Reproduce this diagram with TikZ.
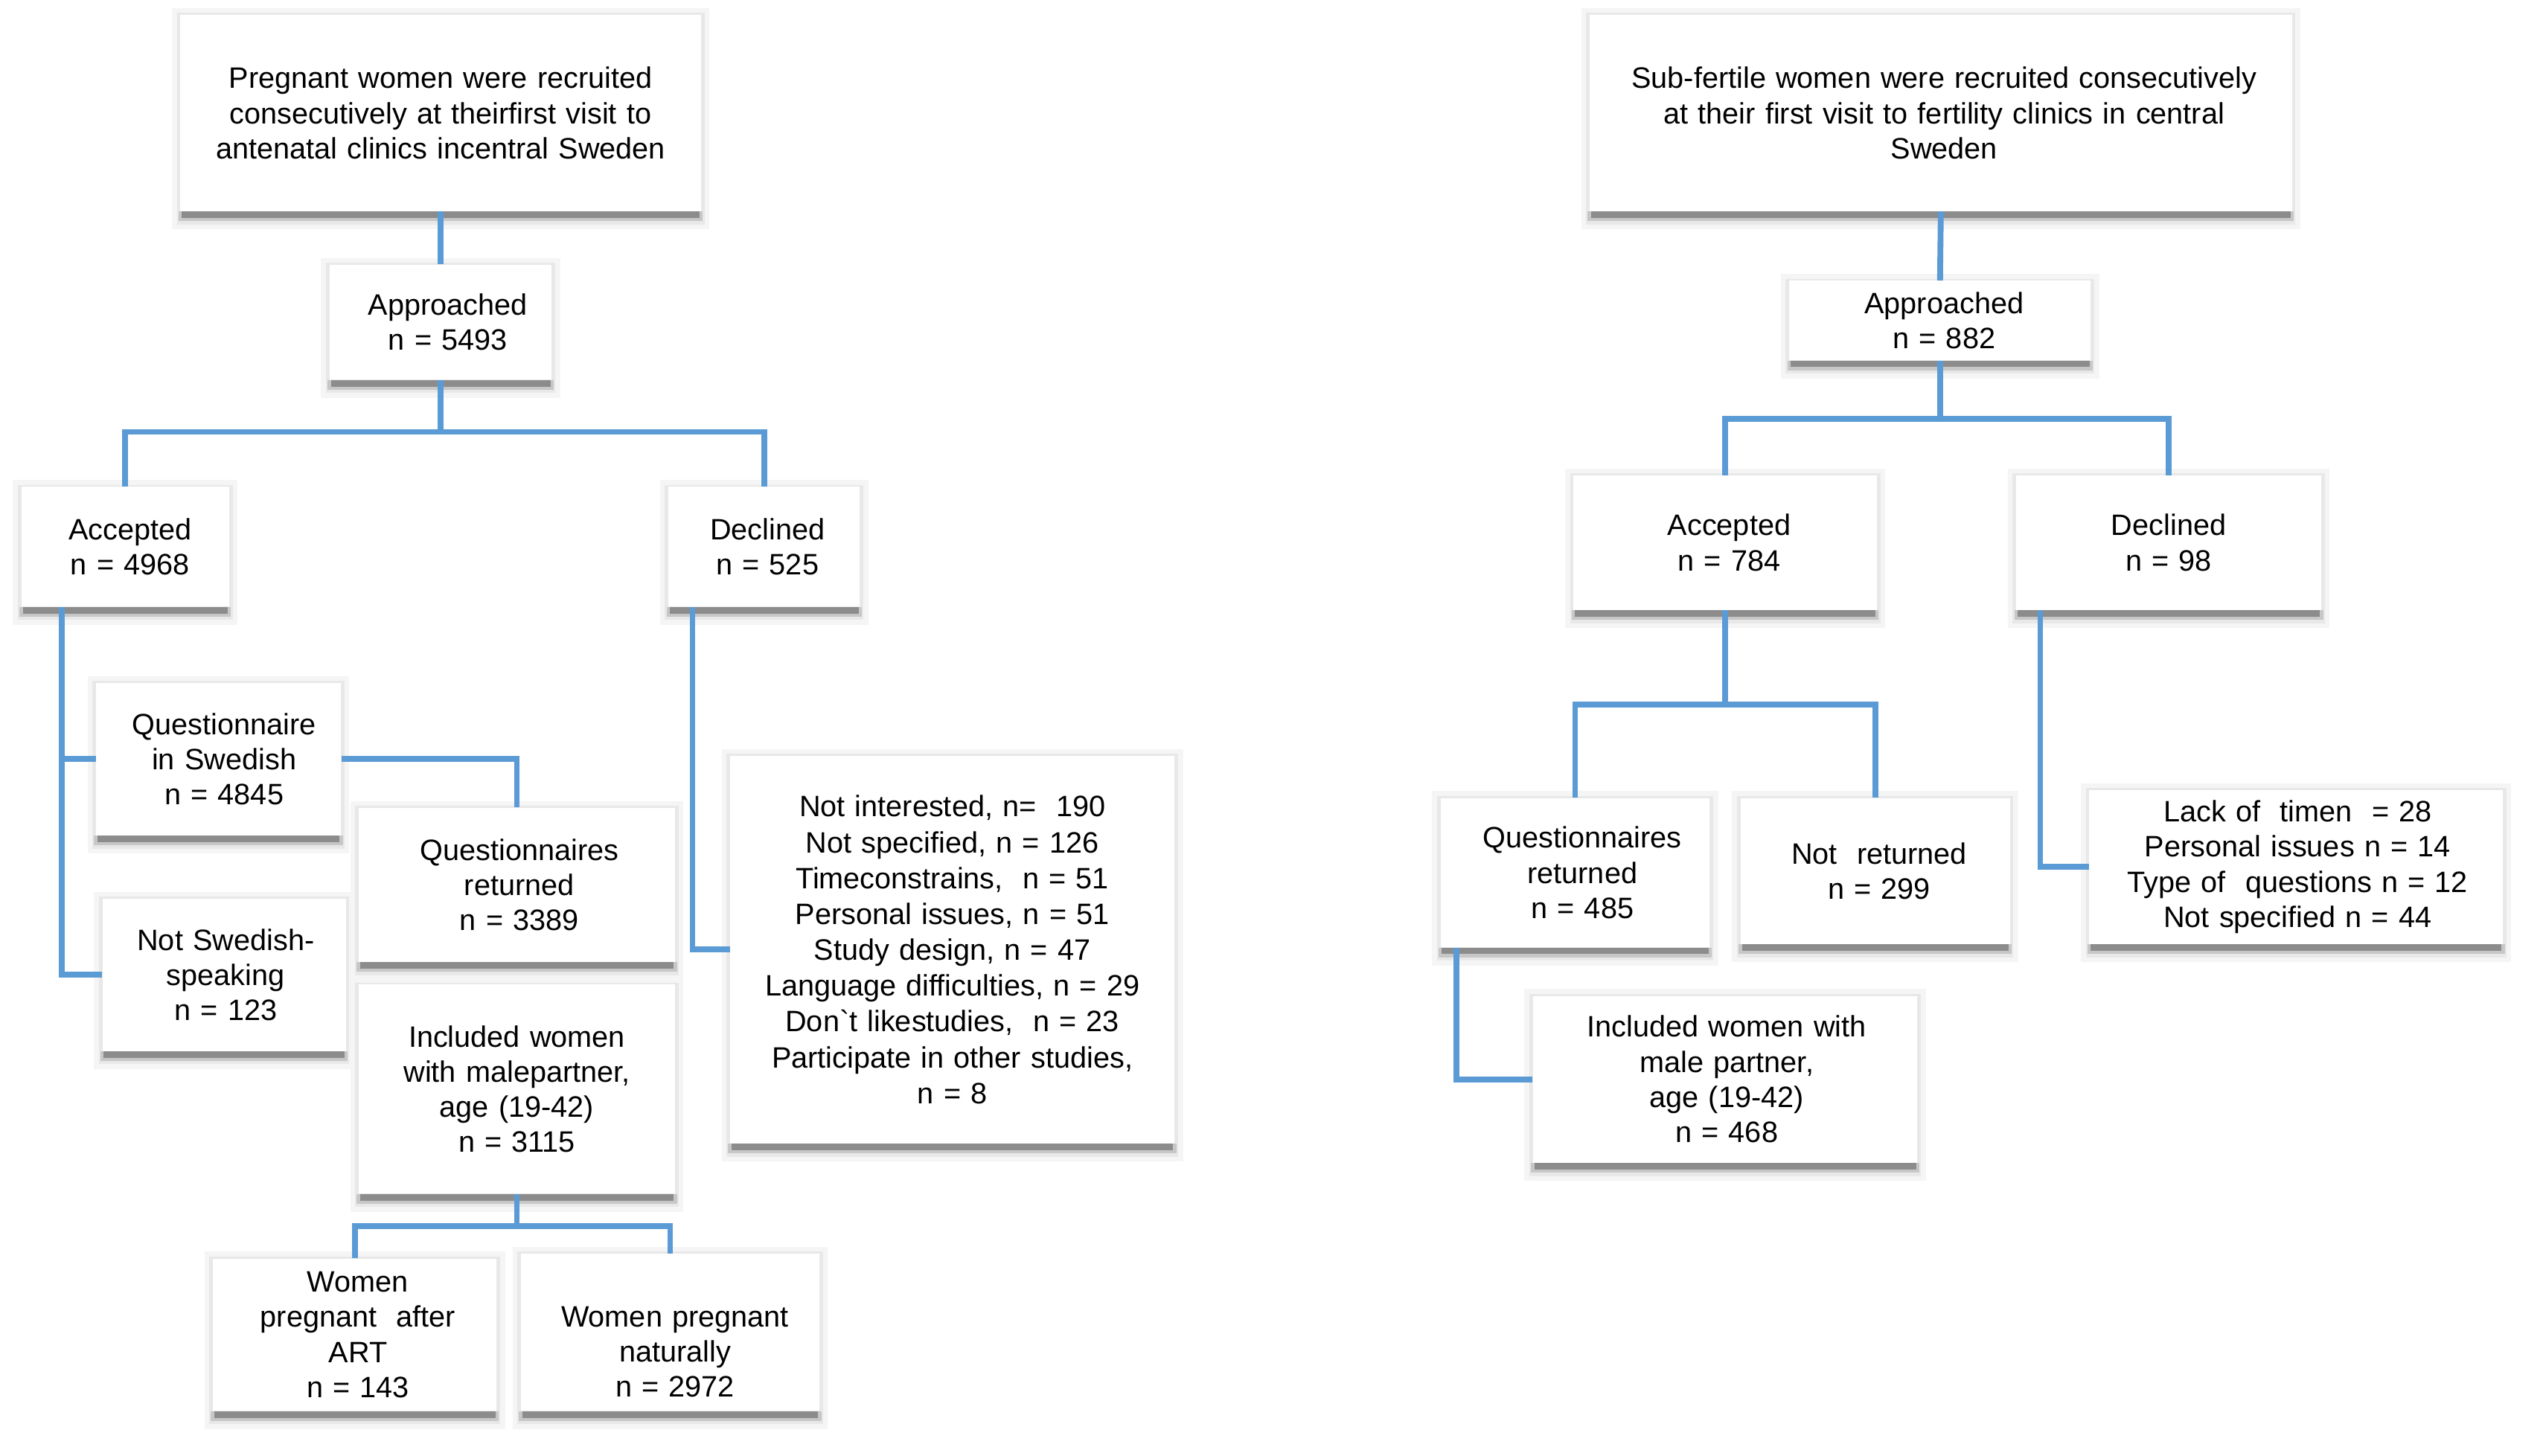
\documentclass[tikz,border=0pt]{standalone}
\usepackage{fontspec}
\setmainfont{Liberation Sans}
\usetikzlibrary{calc,backgrounds}
\definecolor{conblue}{HTML}{5B9BD5}
\begin{document}
\begin{tikzpicture}[x=1pt,y=-1pt,
  bx/.style={rectangle, fill=white, inner sep=0pt, anchor=north west, align=center,
    minimum width=#1, text width=#1,
    font=\fontsize{18.2}{21.7}\selectfont},
  sh/.style={execute at begin node={\leftskip=#1 plus 1fil\rightskip=0pt plus 1fil\parfillskip=0pt\relax}},
  wide/.style={font=\fontsize{18.2}{22.1}\selectfont},
  con/.style={draw=conblue, line width=3.6pt}]
\useasboundingbox (0,0) rectangle (1568,898);
% ---------- left tree ----------
\node[bx=321pt, minimum height=121pt] (top1) at (111,9)
  {Pregnant women were recruited\\consecutively at theirfirst visit to\\antenatal clinics incentral Sweden};
\node[bx=137pt, sh=9pt, minimum height=71pt] (appr1) at (203,163) {Approached\\n = 5493};
\node[bx=128pt, sh=6pt, minimum height=74pt] (acc1) at (13,300) {Accepted\\n = 4968};
\node[bx=118pt, sh=4pt, minimum height=74pt] (dec1) at (412,300) {Declined\\n = 525};
\node[bx=151pt, sh=7pt, minimum height=94pt] (qsw) at (59,421) {Questionnaire\\in Swedish\\n = 4845};
\node[bx=150pt, sh=2pt, minimum height=94pt] (nsw) at (63,554) {Not Swedish-\\speaking\\n = 123};
\node[bx=195pt, sh=3pt, minimum height=95pt] (qret) at (221,498) {Questionnaires\\returned\\n = 3389};
\node[bx=195pt, minimum height=129pt] (incl) at (221,607) {Included women\\with malepartner,\\age (19-42)\\n = 3115};
\node[bx=175pt, sh=4pt, minimum height=94pt] (art) at (131,776) {Women\\pregnant\ \ after\\ART\\n = 143};
\node[bx=184pt, sh=6pt, minimum height=97pt] (nat) at (321,773) {\strut\\Women pregnant\\naturally\\n = 2972};
\node[bx=274pt, wide, minimum height=239pt] (reasons) at (450,466)
  {Not interested, n=\ \ 190\\Not specified, n = 126\\Timeconstrains,\ \ n = 51\\Personal issues, n = 51\\Study design, n = 47\\Language difficulties, n = 29\\Don\textasciigrave t likestudies,\ \ n = 23\\Participate in other studies,\\n = 8};
% ---------- right tree ----------
\node[bx=433pt, sh=4pt, minimum height=121pt] (top2) at (980,9)
  {Sub-fertile women were recruited consecutively\\at their first visit to fertility clinics in central\\Sweden};
\node[bx=186pt, sh=5pt, minimum height=49pt] (appr2) at (1103,173) {Approached\\n = 882};
\node[bx=187pt, sh=5pt, minimum height=83pt] (acc2) at (970,293) {Accepted\\n = 784};
\node[bx=188pt, minimum height=83pt] (dec2) at (1243,293) {Declined\\n = 98};
\node[bx=166pt, sh=9pt, minimum height=92pt] (qr2) at (888,492) {Questionnaires\\returned\\n = 485};
\node[bx=166pt, sh=5pt, minimum height=90pt] (nr2) at (1073,492) {Not\ \ returned\\n = 299};
\node[bx=237pt, sh=2pt, minimum height=103pt] (incl2) at (945,614) {Included women with\\male partner,\\age (19-42)\\n = 468};
\node[bx=255pt, sh=2pt, minimum height=95pt] (reasons2) at (1288,487)
  {Lack of\ \ timen\ \ = 28\\Personal issues n = 14\\Type of\ \ questions n = 12\\Not specified n = 44};
% ---------- shadows ----------
\begin{pgfonlayer}{background}
\fill[white] (0,0) rectangle (1568,898);
\foreach \n in {top1,appr1,acc1,dec1,qsw,nsw,qret,incl,art,nat,reasons,top2,appr2,acc2,dec2,qr2,nr2,incl2,reasons2}{
  \fill[black!4] ([shift={(-5,-4)}]\n.north west) rectangle ([shift={(5,11)}]\n.south east);
  \fill[black!9] ([shift={(-2,-1)}]\n.north west) rectangle ([shift={(2,8)}]\n.south east);
  \fill[black!22] ([shift={(-1,0)}]\n.south west) rectangle ([shift={(1,6)}]\n.south east);
  \fill[black!45] ([shift={(1,0)}]\n.south west) rectangle ([shift={(-1,4)}]\n.south east);
}
\end{pgfonlayer}
% ---------- connectors left ----------
\draw[con] (top1.south) -- (appr1.north);
\coordinate (b1) at ($(appr1.south)+(0,32)$);
\draw[con] (appr1.south) -- (b1);
\draw[con] (acc1.north) |- (b1) -| (dec1.north);
\coordinate (a1) at ($(acc1.south west)+(25,0)$);
\draw[con] (a1) |- (qsw.west);
\draw[con] (a1) |- (nsw.west);
\draw[con] (qsw.east) -| (qret.north);
\coordinate (d1) at ($(dec1.south west)+(15,0)$);
\draw[con] (d1) |- (reasons.west);
\coordinate (b2) at ($(incl.south)+(0,20)$);
\draw[con] (incl.south) -- (b2);
\draw[con] (art.north) |- (b2) -| (nat.north);
% ---------- connectors right ----------
\draw[con] (top2.south) -- (appr2.north);
\coordinate (b3) at ($(appr2.south)+(0,36)$);
\draw[con] (appr2.south) -- (b3);
\draw[con] (acc2.north) |- (b3) -| (dec2.north);
\coordinate (b4) at ($(acc2.south)+(0,58)$);
\draw[con] (acc2.south) -- (b4);
\draw[con] (qr2.north) |- (b4) -| (nr2.north);
\coordinate (q1) at ($(qr2.south west)+(10,0)$);
\draw[con] (q1) |- (incl2.west);
\coordinate (d2) at ($(dec2.south west)+(15,0)$);
\draw[con] (d2) |- (reasons2.west);
\end{tikzpicture}
\end{document}
